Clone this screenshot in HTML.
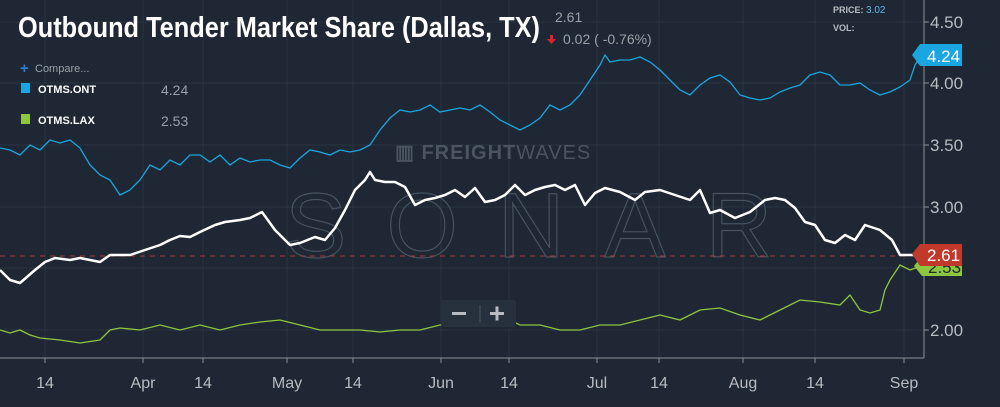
<!DOCTYPE html>
<html><head><meta charset="utf-8"><style>
body{margin:0;background:#1e2733;width:1000px;height:407px;overflow:hidden;font-family:"Liberation Sans",sans-serif}
</style></head><body>
<svg width="1000" height="407" xmlns="http://www.w3.org/2000/svg" style="position:absolute;left:0;top:0">
<rect width="1000" height="407" fill="#1e2733"/>
<g stroke="#2a3542" stroke-width="1">
<line x1="0" y1="22" x2="924" y2="22"/><line x1="0" y1="83" x2="924" y2="83"/><line x1="0" y1="145" x2="924" y2="145"/><line x1="0" y1="207" x2="924" y2="207"/><line x1="0" y1="268" x2="924" y2="268"/><line x1="0" y1="330" x2="924" y2="330"/>
<line x1="45" y1="0" x2="45" y2="358"/><line x1="143" y1="0" x2="143" y2="358"/><line x1="203" y1="0" x2="203" y2="358"/><line x1="287" y1="0" x2="287" y2="358"/><line x1="353" y1="0" x2="353" y2="358"/><line x1="441" y1="0" x2="441" y2="358"/><line x1="509" y1="0" x2="509" y2="358"/><line x1="597" y1="0" x2="597" y2="358"/><line x1="659" y1="0" x2="659" y2="358"/><line x1="743" y1="0" x2="743" y2="358"/><line x1="815" y1="0" x2="815" y2="358"/><line x1="904" y1="0" x2="904" y2="358"/>
</g>
<text x="395" y="159" font-size="20" font-weight="bold" fill="#4a5560" letter-spacing="1">▥ FREIGHT<tspan font-weight="normal">WAVES</tspan></text>
<text x="285" y="257" font-size="92" fill="none" stroke="#465260" stroke-width="1.2" letter-spacing="40" font-weight="normal">SONAR</text>
<line x1="0" y1="256" x2="905" y2="256" stroke="#b03a2e" stroke-width="1" stroke-dasharray="5,5"/>
<polyline fill="none" stroke="#1aa6e0" stroke-width="1.3" points="0,148 10,150 20,155 30,145 40,150 50,140 60,143 70,140 80,148 90,165 100,175 110,180 120,195 130,190 140,180 150,165 160,170 170,160 180,165 190,155 200,155 210,162 220,155 230,165 240,158 250,162 260,160 270,160 280,165 290,168 300,158 310,150 320,152 330,155 340,150 350,152 360,150 370,145 380,130 390,118 400,110 410,112 420,110 430,105 440,112 450,110 460,108 470,110 480,105 490,112 500,120 510,125 520,130 530,125 540,118 550,105 560,110 570,105 580,95 590,80 600,65 605,55 610,62 620,60 630,60 640,57 650,62 660,70 670,80 680,90 690,95 700,85 710,78 720,75 730,82 740,95 750,98 760,100 770,98 780,92 790,88 800,85 810,75 820,72 830,75 840,85 850,85 860,83 870,90 880,95 890,92 900,87 910,80 915,65 924,50"/>
<polyline fill="none" stroke="#8dc63f" stroke-width="1.3" points="0,330 10,333 20,330 30,335 40,338 60,340 80,343 100,340 110,330 120,328 140,330 160,325 180,330 200,325 220,330 240,325 260,322 280,320 300,325 320,330 340,330 360,330 380,332 400,330 420,330 440,325 460,323 480,318 500,315 520,325 540,325 560,330 580,330 600,325 620,325 640,320 660,315 680,320 700,310 720,308 740,315 760,320 780,310 800,300 820,302 840,305 850,295 860,310 870,313 880,310 885,290 890,280 900,265 910,270 924,265"/>
<polyline fill="none" stroke="#ffffff" stroke-width="2.5" stroke-linejoin="round" points="0,270 10,280 20,283 35,270 45,262 55,258 70,260 80,258 100,262 110,255 130,255 145,250 160,245 170,240 180,236 190,237 200,232 215,225 225,222 240,220 250,218 262,212 275,230 290,245 300,243 315,237 325,240 335,228 345,210 355,190 365,180 370,172 375,180 385,182 395,182 405,187 415,205 425,200 435,198 445,195 455,190 465,197 475,188 485,202 495,200 505,195 515,185 525,195 535,190 545,187 555,185 565,190 575,185 585,205 595,193 605,188 620,192 635,200 645,192 660,190 675,195 690,200 700,190 710,213 720,210 735,218 750,212 765,200 775,198 785,200 795,208 805,222 815,225 825,240 835,243 845,235 855,240 865,225 880,230 892,240 900,255 912,255 924,255"/>
<rect x="0" y="358" width="1000" height="49" fill="#1e2733"/>
<line x1="924" y1="0" x2="924" y2="358" stroke="#8a9098" stroke-width="1"/>
<line x1="0" y1="358" x2="924" y2="358" stroke="#8a9098" stroke-width="1"/>
<g stroke="#8a9098"><line x1="924" y1="22" x2="929" y2="22"/><line x1="924" y1="83" x2="929" y2="83"/><line x1="924" y1="145" x2="929" y2="145"/><line x1="924" y1="207" x2="929" y2="207"/><line x1="924" y1="330" x2="929" y2="330"/>
<line x1="45" y1="358" x2="45" y2="363"/><line x1="143" y1="358" x2="143" y2="363"/><line x1="203" y1="358" x2="203" y2="363"/><line x1="287" y1="358" x2="287" y2="363"/><line x1="353" y1="358" x2="353" y2="363"/><line x1="441" y1="358" x2="441" y2="363"/><line x1="509" y1="358" x2="509" y2="363"/><line x1="597" y1="358" x2="597" y2="363"/><line x1="659" y1="358" x2="659" y2="363"/><line x1="743" y1="358" x2="743" y2="363"/><line x1="815" y1="358" x2="815" y2="363"/><line x1="904" y1="358" x2="904" y2="363"/></g>
<g fill="#b8bcc2" font-size="17">
<text x="930" y="28">4.50</text><text x="930" y="89">4.00</text><text x="930" y="151">3.50</text><text x="930" y="213">3.00</text><text x="930" y="336">2.00</text>
</g>
<g fill="#b8bcc2" font-size="16" text-anchor="middle">
<text x="45" y="388">14</text><text x="143" y="388">Apr</text><text x="203" y="388">14</text><text x="287" y="388">May</text><text x="353" y="388">14</text><text x="441" y="388">Jun</text><text x="509" y="388">14</text><text x="597" y="388">Jul</text><text x="659" y="388">14</text><text x="743" y="388">Aug</text><text x="815" y="388">14</text><text x="904" y="388">Sep</text>
</g>
<path d="M914,266 L922,256 L962,256 L962,276 L922,276 Z" fill="#8dc63f"/>
<text x="928" y="273" font-size="17" fill="#1e2733">2.53</text>
<path d="M912,254 L920,244 L962,244 L962,266 L920,266 Z" fill="#c0392b"/>
<text x="927" y="261" font-size="17" fill="#fff">2.61</text>
<path d="M912,55 L920,44 L962,44 L962,66 L920,66 Z" fill="#1aa6e0"/>
<text x="927" y="62" font-size="17" fill="#fff">4.24</text>
<text x="833" y="13" font-size="9" font-weight="bold" fill="#b8bcc2">PRICE: <tspan fill="#5bb8e8" font-weight="normal" font-size="10">3.02</tspan></text>
<text x="833" y="31" font-size="9" font-weight="bold" fill="#b8bcc2">VOL:</text>
<text x="18" y="37" font-size="29" font-weight="bold" fill="#fff" textLength="522" lengthAdjust="spacingAndGlyphs">Outbound Tender Market Share (Dallas, TX)</text>
<text x="555" y="22" font-size="14" fill="#9aa0a8">2.61</text>
<path d="M550,35 h3 v4 h3 l-4.5,5 l-4.5,-5 h3 z" fill="#e0202a"/>
<text x="563" y="44" font-size="14" fill="#9aa0a8">0.02 ( -0.76%)</text>
<text x="20" y="73" font-size="15" font-weight="bold" fill="#2a7fd4">+</text>
<text x="35" y="72" font-size="11" fill="#9aa0a8">Compare...</text>
<rect x="21" y="83" width="9" height="10" fill="#1aa6e0"/>
<text x="38" y="93" font-size="11" font-weight="bold" fill="#fff">OTMS.ONT</text>
<text x="161" y="95" font-size="14" fill="#9aa0a8">4.24</text>
<rect x="21" y="114" width="9" height="10" fill="#8dc63f"/>
<text x="38" y="124" font-size="11" font-weight="bold" fill="#fff">OTMS.LAX</text>
<text x="161" y="126" font-size="14" fill="#9aa0a8">2.53</text>
<rect x="441" y="300" width="75" height="27" rx="3" fill="#27313d"/>
<rect x="452" y="312" width="14" height="3" fill="#b8bcc2"/>
<line x1="480" y1="305" x2="480" y2="322" stroke="#4a5560"/>
<rect x="490" y="312" width="14" height="3" fill="#b8bcc2"/><rect x="495.5" y="306.5" width="3" height="14" fill="#b8bcc2"/>
</svg>
</body></html>
